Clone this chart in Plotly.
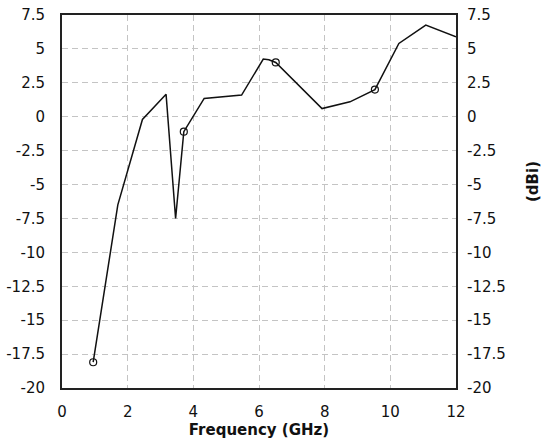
import plotly.graph_objects as go

# Data
freq_ghz = [0.95, 1.70, 2.45, 3.17, 3.46, 3.71, 4.33, 5.47, 6.13, 6.30, 6.51, 7.92, 8.77, 9.53, 10.26, 11.08, 12.0]
gain_dbi = [-18.1, -6.5, -0.2, 1.65, -7.5, -1.1, 1.35, 1.6, 4.25, 4.2, 4.0, 0.6, 1.1, 2.0, 5.4, 6.75, 5.9]
marker_freq = [0.95, 3.71, 6.51, 9.53]
marker_gain = [-18.1, -1.1, 4.0, 2.0]

x_ticks = [0, 2, 4, 6, 8, 10, 12]
y_ticks = [7.5, 5, 2.5, 0, -2.5, -5, -7.5, -10, -12.5, -15, -17.5, -20]
y_tick_text = ["7.5", "5", "2.5", "0", "-2.5", "-5", "-7.5", "-10", "-12.5", "-15", "-17.5", "-20"]

x_title = "Frequency (GHz)"
y2_title = "(dBi)"

W, H = 542, 444
ML, MR, MT, MB = 62, 86, 15, 56

tick_font = dict(family="DejaVu Sans", size=15, color="#111")

fig = go.Figure()
fig.add_trace(go.Scatter(x=freq_ghz, y=gain_dbi, mode="lines",
                         line=dict(color="#111", width=1.5),
                         showlegend=False, hoverinfo="skip"))
fig.add_trace(go.Scatter(x=marker_freq, y=marker_gain, mode="markers",
                         marker=dict(symbol="circle-open", size=7,
                                     color="#111", line=dict(width=1.2)),
                         showlegend=False, hoverinfo="skip"))
# invisible trace to activate the right axis
fig.add_trace(go.Scatter(x=marker_freq, y=marker_gain, mode="markers",
                         yaxis="y2", marker=dict(opacity=0),
                         showlegend=False, hoverinfo="skip"))

grid = dict(showgrid=True, gridcolor="#c4c4c4", gridwidth=1, griddash="6px,4px")

fig.update_layout(
    width=W, height=H,
    margin=dict(l=ML, r=MR, t=MT, b=MB, pad=0, autoexpand=False),
    paper_bgcolor="white", plot_bgcolor="white",
    xaxis=dict(range=[0, 12], tickvals=x_ticks, ticks="", automargin=False,
               tickfont=tick_font, ticklabelstandoff=9,
               showline=True, linecolor="#222", linewidth=2, mirror=True,
               zeroline=False, fixedrange=True,
               title=dict(text="<b>" + x_title + "</b>",
                          font=dict(family="DejaVu Sans", size=15, color="#111"),
                          standoff=3),
               **grid),
    yaxis=dict(range=[-20, 7.5], tickvals=y_ticks, ticktext=y_tick_text, ticks="",
               tickfont=tick_font, ticklabelstandoff=12, automargin=False,
               showline=True, linecolor="#222", linewidth=2, mirror=True,
               zeroline=False, fixedrange=True, **grid),
    yaxis2=dict(range=[-20, 7.5], tickvals=y_ticks, ticktext=y_tick_text, ticks="",
                tickfont=tick_font, ticklabelstandoff=10, automargin=False,
                overlaying="y", side="right", showgrid=False,
                showline=False, zeroline=False, fixedrange=True),
    annotations=[dict(text="<b>" + y2_title + "</b>", xref="paper", yref="paper",
                      x=(533 - ML) / (W - ML - MR), y=1 - (182 - MT) / (H - MT - MB),
                      xanchor="center", yanchor="middle", textangle=-90,
                      showarrow=False,
                      font=dict(family="DejaVu Sans", size=15, color="#111"))],
)

fig.write_html("out.html")
